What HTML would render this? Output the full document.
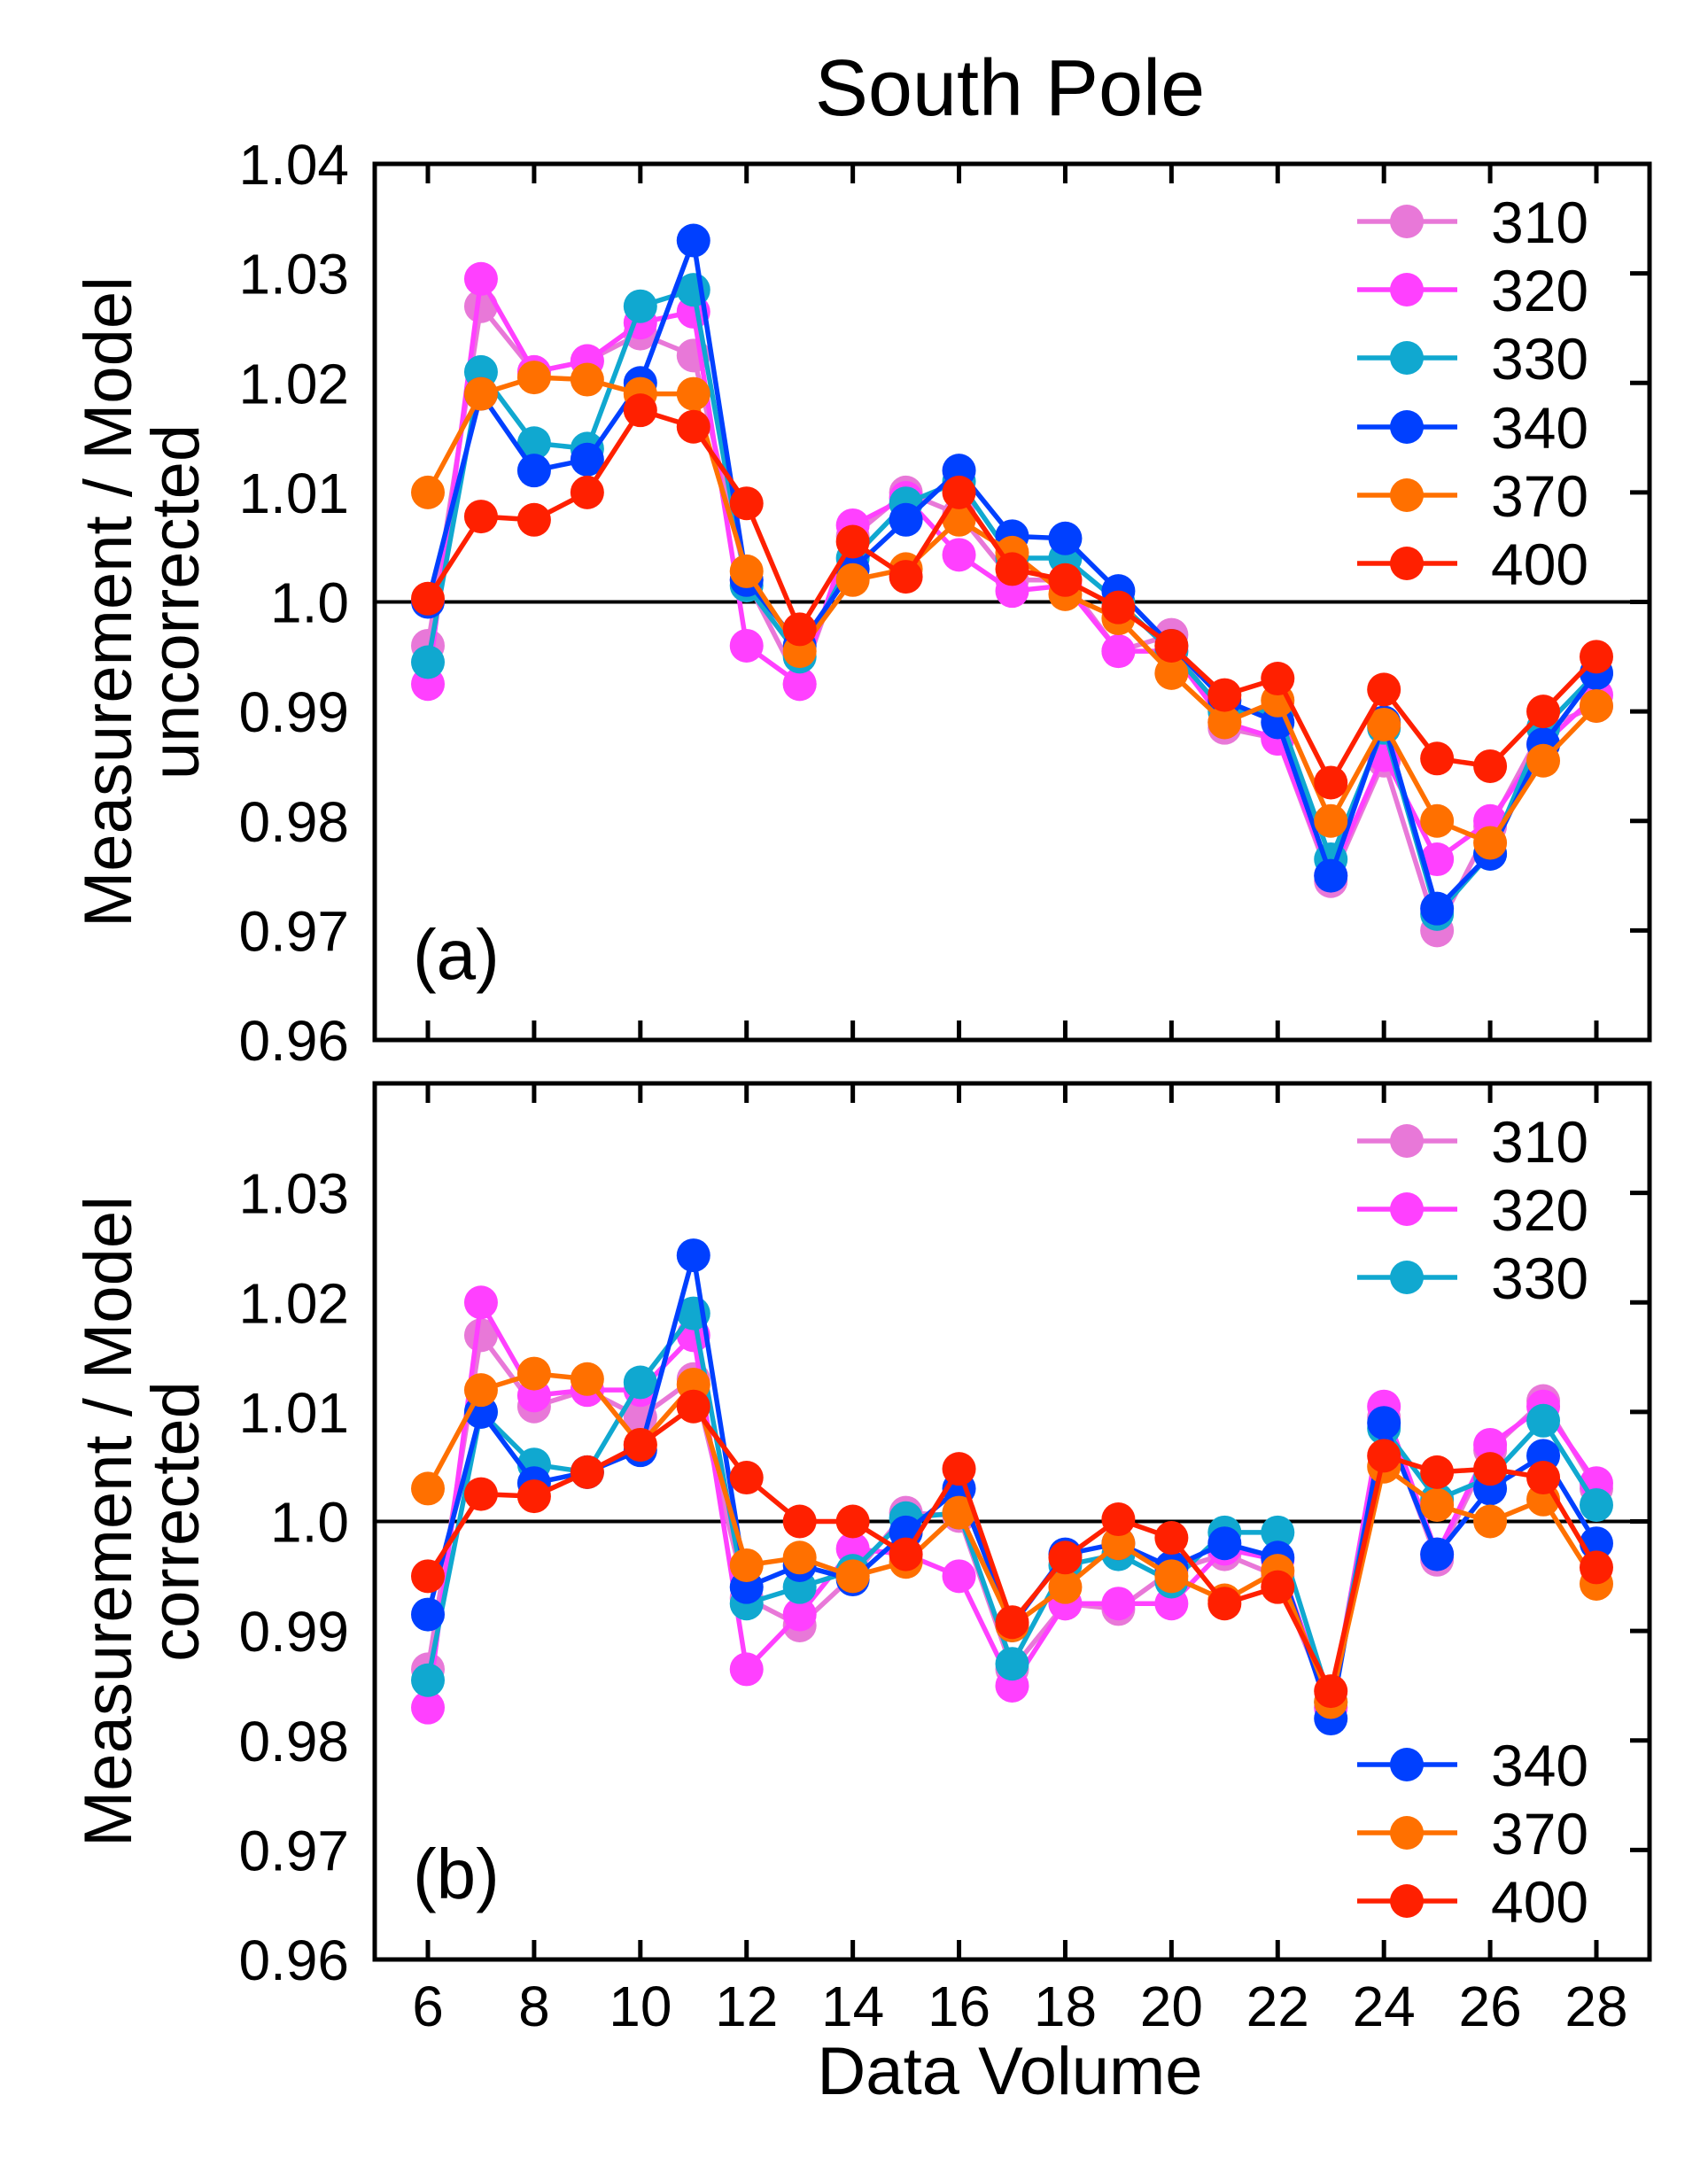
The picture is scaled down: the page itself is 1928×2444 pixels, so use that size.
<!DOCTYPE html>
<html><head><meta charset="utf-8"><style>
html,body{margin:0;padding:0;background:#fff;}
svg{display:block;font-family:"Liberation Sans",sans-serif;}
</style></head><body>
<svg id="chart" width="1928" height="2444" viewBox="0 0 1928 2444">
<text x="1140" y="130" font-size="90" text-anchor="middle">South Pole</text>
<g id="g"></g>
</svg>
<script>
const xValues=[6,7,8,9,10,11,12,13,14,15,16,17,18,19,20,21,22,23,24,25,26,27,28];
const seriesNames=["310","320","330","340","370","400"];
const seriesColors=["#e878d8","#ff40ff","#10a8d0","#0040ff","#ff7000","#ff2000"];
const xTicks=[6,8,10,12,14,16,18,20,22,24,26,28];
const yTicks=[0.96,0.97,0.98,0.99,1.0,1.01,1.02,1.03,1.04];
const yTickLabels=["0.96","0.97","0.98","0.99","1.0","1.01","1.02","1.03","1.04"];
const a310=[0.996,1.027,1.021,1.022,1.0245,1.0225,1.002,0.9925,1.006,1.010,1.008,1.002,1.002,0.9955,0.997,0.9885,0.9875,0.9745,0.9855,0.970,0.9795,0.9885,0.9905];
const a320=[0.9925,1.0295,1.021,1.022,1.0255,1.0265,0.996,0.9925,1.007,1.0095,1.0043,1.001,1.0015,0.9955,0.9955,0.989,0.9875,0.975,0.986,0.9765,0.980,0.987,0.9915];
const a330=[0.9945,1.021,1.0145,1.014,1.027,1.0285,1.0015,0.995,1.004,1.009,1.011,1.004,1.004,1.000,0.9955,0.990,0.990,0.9765,0.9885,0.9715,0.977,0.9885,0.9935];
const a340=[1.000,1.019,1.012,1.013,1.020,1.033,1.002,0.996,1.003,1.0075,1.012,1.006,1.0058,1.001,0.996,0.991,0.989,0.975,0.989,0.972,0.977,0.987,0.9935];
const a370=[1.010,1.019,1.0205,1.0203,1.019,1.019,1.0028,0.9955,1.002,1.003,1.0075,1.0045,1.0007,0.9985,0.9935,0.989,0.991,0.980,0.9888,0.980,0.978,0.9855,0.9905];
const a400=[1.0003,1.0078,1.0075,1.010,1.0175,1.016,1.009,0.9975,1.0055,1.0023,1.010,1.003,1.002,0.9995,0.996,0.9915,0.993,0.9835,0.992,0.9857,0.985,0.990,0.995];
const b310=[0.9865,1.017,1.0105,1.012,1.0095,1.013,0.993,0.9905,0.995,1.0008,1.0005,0.9865,0.9925,0.992,0.9955,0.997,0.995,0.983,1.0095,0.9965,1.0065,1.011,1.003];
const b320=[0.983,1.020,1.0115,1.012,1.012,1.017,0.9865,0.9915,0.9975,0.997,0.995,0.985,0.9925,0.9925,0.9925,0.9975,0.9965,0.983,1.0105,0.997,1.007,1.0105,1.0035];
const b330=[0.9855,1.010,1.0052,1.0045,1.0127,1.019,0.9925,0.994,0.9955,1.0003,1.0008,0.987,0.996,0.997,0.9945,0.999,0.999,0.9835,1.0085,1.002,1.004,1.0092,1.0015];
const b340=[0.9915,1.010,1.0035,1.0045,1.0065,1.0243,0.994,0.996,0.9947,0.999,1.003,0.9905,0.997,0.998,0.9958,0.998,0.9967,0.982,1.009,0.997,1.003,1.006,0.998];
const b370=[1.003,1.012,1.0135,1.013,1.007,1.0125,0.996,0.9967,0.995,0.9963,1.0008,0.9905,0.994,0.998,0.995,0.9928,0.9955,0.9835,1.005,1.0015,1.000,1.002,0.9943];
const b400=[0.995,1.0025,1.0023,1.0045,1.007,1.0105,1.004,1.000,1.000,0.997,1.0048,0.9908,0.9967,1.0002,0.9985,0.9925,0.994,0.9845,1.006,1.0045,1.0048,1.004,0.9958];
const panelA=[a310,a320,a330,a340,a370,a400];
const panelB=[b310,b320,b330,b340,b370,b400];

const NS="http://www.w3.org/2000/svg";
const g=document.getElementById('g');
function mk(t,at,parent){const e=document.createElementNS(NS,t);for(const k in at)e.setAttribute(k,at[k]);(parent||g).appendChild(e);return e;}
const L=423,R=1862;
function xs(v){return 483+(v-6)*(1802-483)/22;}
function drawPanel(top,bottom,data,tag,yTitle2,legendA,legendB,showTop){
  const ys=v=>bottom-(v-0.96)/0.08*(bottom-top);
  const pg=mk('g',{});
  
  
  yTicks.forEach((t,i)=>{
    if(!showTop && i===yTicks.length-1) return;
    const y=ys(t);
    if(i>0 && i<yTicks.length-1){
      const tk=mk('line',{x1:R-22,x2:R,y1:y,y2:y,stroke:'#000','stroke-width':5},pg);
      
      
    }
    const tx=mk('text',{x:394,y:y+23,'font-size':64,'text-anchor':'end'},pg);
    tx.textContent=yTickLabels[i];
    
    
  });
  xTicks.forEach(t=>{
    const x=xs(t);
    const t1=mk('line',{x1:x,x2:x,y1:top,y2:top+22,stroke:'#000','stroke-width':5},pg);
    
    
    const t2=mk('line',{x1:x,x2:x,y1:bottom,y2:bottom-22,stroke:'#000','stroke-width':5},pg);
    
    
  });
  const ref=mk('line',{x1:L,x2:R,y1:ys(1.0),y2:ys(1.0),stroke:'#000','stroke-width':4},pg);
  
  
  data.forEach((s,si)=>{
    const sg=mk('g',{},pg);
    
    
    const pts=s.map((v,i)=>xs(xValues[i])+','+ys(v)).join(' ');
    const pl=mk('polyline',{points:pts,fill:'none',stroke:seriesColors[si],'stroke-width':5.5},sg);
    
    
    s.forEach((v,i)=>{
      const c=mk('circle',{cx:xs(xValues[i]),cy:ys(v),r:19,fill:seriesColors[si]},sg);
      
      
    });
  });
  const fr=mk('rect',{x:L,y:top,width:R-L,height:bottom-top,fill:'none',stroke:'#000','stroke-width':5},pg);
  
  
  const lab=mk('text',{x:466,y:top+(bottom-top)*0.93,'font-size':80},pg);
  lab.textContent='('+tag+')';
  
  
  const cy=(top+bottom)/2;
  const yt=mk('text',{'font-size':76,'text-anchor':'middle',transform:`translate(148,${cy}) rotate(-90)`},pg);
  yt.textContent='Measurement / Model';
  
  
  const yt2=mk('text',{'font-size':76,'text-anchor':'middle',transform:`translate(224,${cy}) rotate(-90)`},pg);
  yt2.textContent=yTitle2;
  
  
  [legendA,legendB].forEach(leg=>{
    leg.idx.forEach((si,k)=>{
      const y=leg.y0+k*77;
      const lg=mk('g',{},pg);
      
      
      mk('line',{x1:1532,x2:1645,y1:y,y2:y,stroke:seriesColors[si],'stroke-width':5.5},lg);
      mk('circle',{cx:1588,cy:y,r:19,fill:seriesColors[si]},lg);
      const t=mk('text',{x:1683,y:y+24,'font-size':66},lg);
      t.textContent=seriesNames[si];
    });
  });
}
drawPanel(185,1174,panelA,'a','uncorrected',{idx:[0,1,2],y0:250},{idx:[3,4,5],y0:482},true);
drawPanel(1223,2212,panelB,'b','corrected',{idx:[0,1,2],y0:1288},{idx:[3,4,5],y0:1992},false);
xTicks.forEach(t=>{
  const tx=mk('text',{x:xs(t),y:2287,'font-size':64,'text-anchor':'middle'});
  tx.textContent=t;
  
  
});
const xt=mk('text',{x:1140,y:2364,'font-size':76,'text-anchor':'middle'});
xt.textContent='Data Volume';


</script>
</body></html>
